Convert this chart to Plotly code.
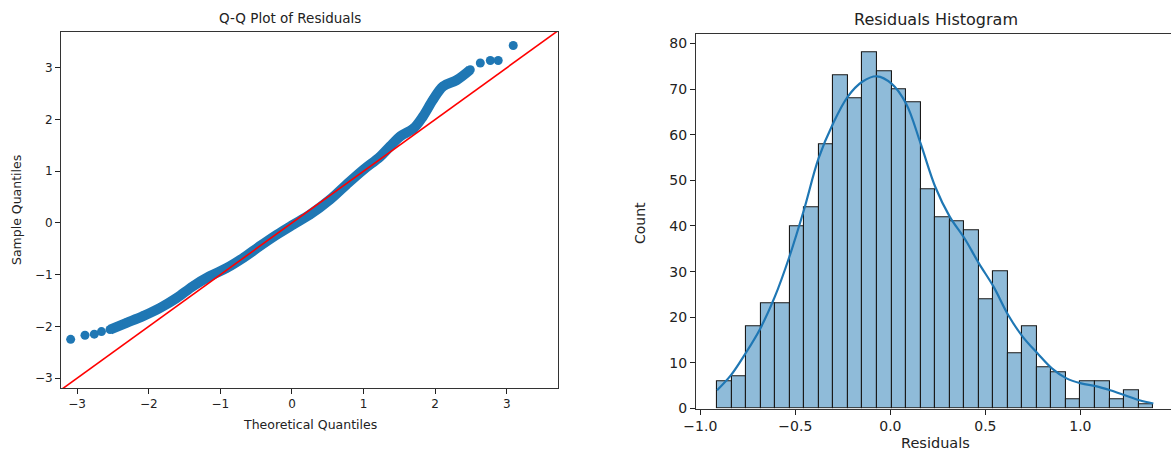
import numpy as np
import plotly.graph_objects as go

W, H = 1171, 452

# ---------------- Data ----------------
# Q-Q plot: dense band of sample quantiles
qq_theoretical = [-2.54, -2.31, -2.08, -1.84, -1.61, -1.38, -1.15, -0.91, -0.68, -0.45,
                  -0.21, 0.02, 0.25, 0.53, 0.76, 1.00, 1.23, 1.37, 1.51, 1.70,
                  1.83, 1.97, 2.11, 2.30, 2.49]
qq_sample = [-2.06, -1.93, -1.80, -1.64, -1.45, -1.22, -1.03, -0.87, -0.675, -0.45,
             -0.226, -0.03, 0.16, 0.45, 0.74, 1.03, 1.28, 1.48, 1.67, 1.83,
             2.06, 2.38, 2.64, 2.76, 2.96]
# isolated tail points
tail_theoretical = [-3.09, -2.89, -2.76, -2.66, 2.63, 2.77, 2.88, 3.09]
tail_sample = [-2.25, -2.17, -2.15, -2.10, 3.09, 3.14, 3.14, 3.43]
ref_line = [-3.5, 4.0]

# Histogram of residuals
bin_start = -0.912
bin_width = 0.0765
counts = [6, 7, 18, 23, 23, 40, 44, 58, 73, 68, 78, 74, 70, 67, 48,
          42, 41, 39, 24, 30, 12, 18, 9, 8, 2, 6, 6, 2, 4, 1]
kde_x = [-0.912, -0.839, -0.762, -0.685, -0.608, -0.532, -0.455, -0.378, -0.301, -0.225,
         -0.148, -0.071, 0.006, 0.083, 0.159, 0.236, 0.313, 0.390, 0.466, 0.543,
         0.620, 0.697, 0.774, 0.850, 0.927, 1.004, 1.081, 1.157, 1.234, 1.311, 1.384]
kde_y = [4.0, 7.3, 12.1, 17.5, 24.5, 33.2, 43.5, 54.8, 62.5, 68.3,
         71.6, 72.8, 71.2, 66.8, 58.1, 48.6, 42.0, 37.3, 31.8, 26.7,
         20.5, 15.7, 12.1, 8.8, 6.6, 5.5, 4.9, 4.0, 2.9, 1.8, 1.1]

centers = [bin_start + (i + 0.5) * bin_width for i in range(len(counts))]

# ---------------- Figure ----------------
BLUE = "#1f77b4"
FONT = "DejaVu Sans"

def px_x(p):
    return p / W

def px_y(p):
    return 1 - p / H

fig = go.Figure()

# Q-Q dense band
fig.add_trace(go.Scatter(x=qq_theoretical, y=qq_sample, mode="lines+markers",
                         line=dict(color=BLUE, width=10, shape="spline"),
                         marker=dict(color=BLUE, size=9),
                         xaxis="x", yaxis="y", showlegend=False))
fig.add_trace(go.Scatter(x=tail_theoretical, y=tail_sample, mode="markers",
                         marker=dict(color=BLUE, size=9),
                         xaxis="x", yaxis="y", showlegend=False))
fig.add_trace(go.Scatter(x=ref_line, y=ref_line, mode="lines",
                         line=dict(color="#ff0000", width=1.6),
                         xaxis="x", yaxis="y", showlegend=False))

# Histogram
fig.add_trace(go.Bar(x=centers, y=counts, width=bin_width,
                     marker=dict(color="rgba(31,119,180,0.5)",
                                 line=dict(color="#1a1a1a", width=1.1)),
                     xaxis="x2", yaxis="y2", showlegend=False))
fig.add_trace(go.Scatter(x=kde_x, y=kde_y, mode="lines",
                         line=dict(color=BLUE, width=2.2, shape="spline"),
                         xaxis="x2", yaxis="y2", showlegend=False))

axis_common = dict(showgrid=False, zeroline=False, ticks="outside", ticklen=5,
                   tickcolor="#222", linecolor="#333", linewidth=1, showline=True,
                   automargin=False)

fig.update_layout(
    width=W, height=H, margin=dict(l=0, r=0, t=0, b=0, autoexpand=False),
    plot_bgcolor="white", paper_bgcolor="white",
    bargap=0,
    font=dict(family=FONT, color="#222"),
    xaxis=dict(domain=[px_x(61), px_x(558)], range=[-3.225, 3.715],
               tickvals=[-3, -2, -1, 0, 1, 2, 3], mirror=True,
               tickfont=dict(size=12, family=FONT, color="#222"),
               anchor="y", **axis_common),
    yaxis=dict(domain=[px_y(388), px_y(32)], range=[-3.19, 3.69],
               tickvals=[-3, -2, -1, 0, 1, 2, 3], mirror=True,
               tickfont=dict(size=12, family=FONT, color="#222"),
               anchor="x", **axis_common),
    xaxis2=dict(domain=[px_x(696), 1.0], range=[-1.023, 1.477],
                tickvals=[-1.0, -0.5, 0.0, 0.5, 1.0], tickformat=".1f", mirror=True,
                tickfont=dict(size=14, family=FONT, color="#222"),
                anchor="y2", **axis_common),
    yaxis2=dict(domain=[px_y(408.5), px_y(34.3)], range=[0, 82],
                tickvals=[0, 10, 20, 30, 40, 50, 60, 70, 80],
                tickfont=dict(size=14, family=FONT, color="#222"),
                anchor="x2", **axis_common),
)

annotations = [
    dict(text="Q-Q Plot of Residuals", x=px_x(290), y=px_y(18), size=13.5),
    dict(text="Theoretical Quantiles", x=px_x(309.5), y=px_y(424), size=12.5),
    dict(text="Residuals Histogram", x=px_x(936), y=px_y(20), size=16),
    dict(text="Residuals", x=px_x(935), y=px_y(443), size=14.5),
]
anns = []
for a in annotations:
    anns.append(dict(text=a["text"], x=a["x"], y=a["y"], xref="paper", yref="paper",
                     showarrow=False, xanchor="center", yanchor="middle",
                     font=dict(size=a["size"], family=FONT, color="#222")))
anns.append(dict(text="Sample Quantiles", x=px_x(17), y=px_y(210), xref="paper", yref="paper",
                 showarrow=False, textangle=-90, xanchor="center", yanchor="middle",
                 font=dict(size=12.5, family=FONT, color="#222")))
anns.append(dict(text="Count", x=px_x(640), y=px_y(223), xref="paper", yref="paper",
                 showarrow=False, textangle=-90, xanchor="center", yanchor="middle",
                 font=dict(size=14, family=FONT, color="#222")))
fig.update_layout(annotations=anns)

fig.write_html("out.html")
